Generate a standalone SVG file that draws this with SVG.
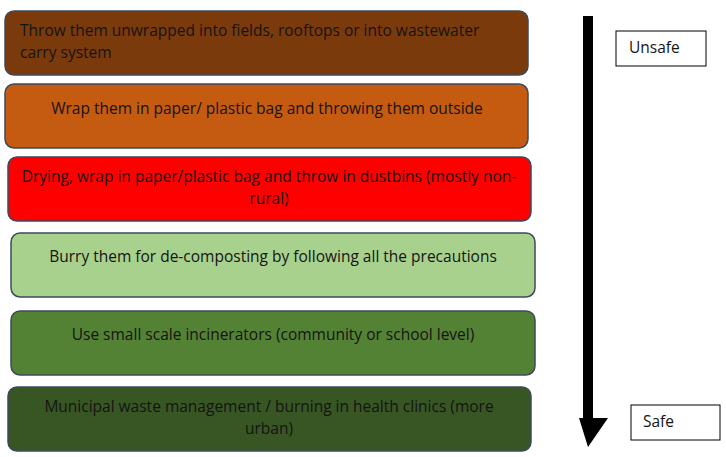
<svg xmlns="http://www.w3.org/2000/svg" width="726" height="457" viewBox="0 0 726 457">
  <style>
    .step { stroke: #3e4a5c; stroke-width: 1.5; }
    .label { font-family: "Open Sans", "Liberation Sans", sans-serif; font-size: 15.5px; fill: #141414; }
    .mid { text-anchor: middle; }
    .tag { fill: #ffffff; stroke: #000000; stroke-width: 1; }
  </style>
  <rect width="726" height="457" fill="#ffffff"/>

  <g id="step-unwrapped">
    <rect class="step" x="5" y="11" width="523" height="64" rx="9" fill="#7b3a0c"/>
    <text class="label" x="20" y="36">Throw them unwrapped into fields, rooftops or into wastewater</text>
    <text class="label" x="20" y="58">carry system</text>
  </g>

  <g id="step-wrap-outside">
    <rect class="step" x="5" y="84" width="523" height="64" rx="9" fill="#c55a11"/>
    <text class="label mid" x="267" y="114">Wrap them in paper/ plastic bag and throwing them outside</text>
  </g>

  <g id="step-dustbins">
    <rect class="step" x="8" y="157" width="523" height="64" rx="9" fill="#ff0000"/>
    <text class="label mid" x="269" y="182">Drying, wrap in paper/plastic bag and throw in dustbins (mostly non-</text>
    <text class="label mid" x="269" y="204">rural)</text>
  </g>

  <g id="step-bury">
    <rect class="step" x="11" y="233" width="524" height="64" rx="9" fill="#a9d18e"/>
    <text class="label mid" x="273" y="262">Burry them for de-composting by following all the precautions</text>
  </g>

  <g id="step-incinerators">
    <rect class="step" x="11" y="311" width="524" height="64" rx="9" fill="#548235"/>
    <text class="label mid" x="273" y="340">Use small scale incinerators (community or school level)</text>
  </g>

  <g id="step-municipal">
    <rect class="step" x="8" y="387" width="523" height="64" rx="9" fill="#385623"/>
    <text class="label mid" x="269" y="412">Municipal waste management / burning in health clinics (more</text>
    <text class="label mid" x="269" y="434">urban)</text>
  </g>

  <g id="connectors">
    <path d="M583 16 H593 V418 H608 L588 447 L579 418 H583 Z" fill="#000000"/>
  </g>

  <g id="tag-unsafe">
    <rect class="tag" x="616" y="31" width="90" height="35"/>
    <text class="label" x="629" y="53">Unsafe</text>
  </g>

  <g id="tag-safe">
    <rect class="tag" x="631" y="405" width="89" height="35"/>
    <text class="label" x="643" y="427">Safe</text>
  </g>
</svg>
